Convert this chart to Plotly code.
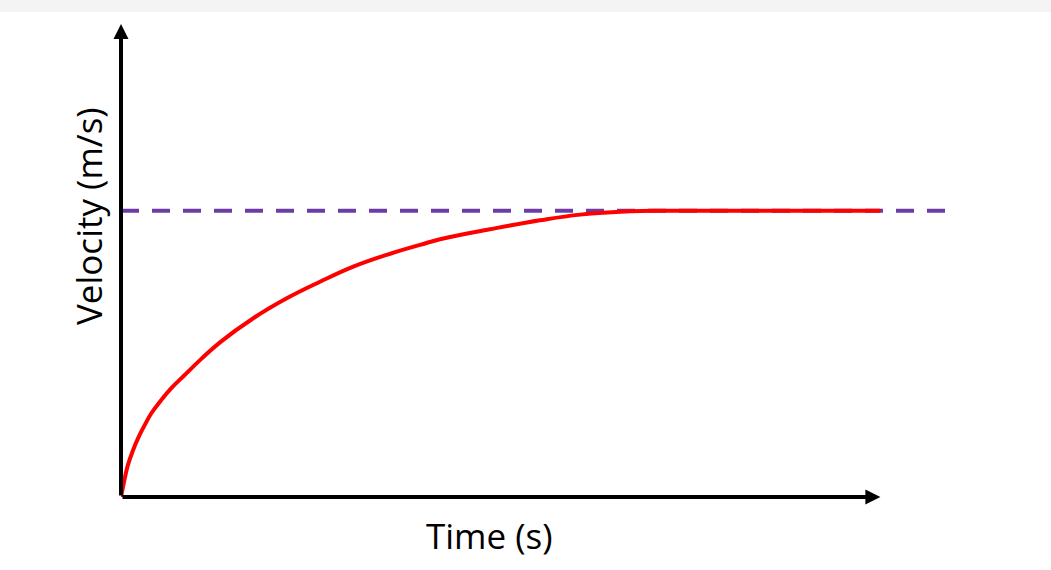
import plotly.graph_objects as go

# velocity-time curve (arbitrary units)
time_s = [0.0, 0.052, 0.084, 0.145, 0.205, 0.286, 0.366, 0.486, 0.607, 0.768,
          0.969, 1.194, 1.596, 1.999, 2.400, 2.802, 3.205, 3.608, 3.848, 4.451,
          5.054, 5.54, 6.14, 6.62, 9.16]
velocity = [0.0, 0.45, 0.68, 0.99, 1.24, 1.52, 1.77, 2.05, 2.30, 2.58,
            2.92, 3.27, 3.78, 4.20, 4.55, 4.87, 5.12, 5.33, 5.45, 5.66,
            5.85, 5.97, 6.04, 6.05, 6.05]

terminal_velocity = 6.05
terminal_span = [0.0, 10.0]
x_axis_end = 9.16
y_axis_end = 10.0

x_label = "Time (s)"
y_label = "Velocity (m/s)"

fig = go.Figure()

fig.add_trace(go.Scatter(
    x=terminal_span, y=[terminal_velocity, terminal_velocity],
    mode="lines",
    line=dict(color="#6c3ca6", width=4, dash="18px,13px"),
    hoverinfo="skip",
))

fig.add_trace(go.Scatter(
    x=time_s, y=velocity,
    mode="lines",
    line=dict(color="#ff0000", width=4, shape="spline", smoothing=1.2),
    hoverinfo="skip",
))

# axes drawn as arrows
for ax_x, ax_y in [(x_axis_end, 0), (0, y_axis_end)]:
    fig.add_annotation(
        x=ax_x, y=ax_y, ax=0, ay=0,
        xref="x", yref="y", axref="x", ayref="y",
        text="", showarrow=True,
        arrowhead=2, arrowsize=0.75, arrowwidth=4, arrowcolor="black",
    )

fig.add_annotation(x=4.45, y=0, xref="x", yref="y", yshift=-38,
                   text=x_label, showarrow=False,
                   font=dict(size=35, color="black"))
fig.add_annotation(x=0, y=5.94, xref="x", yref="y", xshift=-33,
                   text=y_label, textangle=-90, showarrow=False,
                   font=dict(size=35, color="black"))

# faint strip along the top edge
fig.add_shape(type="rect", xref="paper", yref="paper",
              x0=-0.2, x1=1.2, y0=1 + 12 / 473, y1=1 + 24 / 473,
              fillcolor="#f4f4f4", line=dict(width=0), layer="below")

fig.update_xaxes(visible=False, range=[0, 10], fixedrange=True)
fig.update_yaxes(visible=False, range=[0, 10], fixedrange=True)

fig.update_layout(
    width=1051, height=570,
    margin=dict(l=121, r=101, t=24, b=73),
    plot_bgcolor="white", paper_bgcolor="white",
    showlegend=False,
    font=dict(family="Open Sans, sans-serif"),
)

fig.write_html("out.html", config={"displayModeBar": False},
               post_script="document.body.style.margin = '0';")
